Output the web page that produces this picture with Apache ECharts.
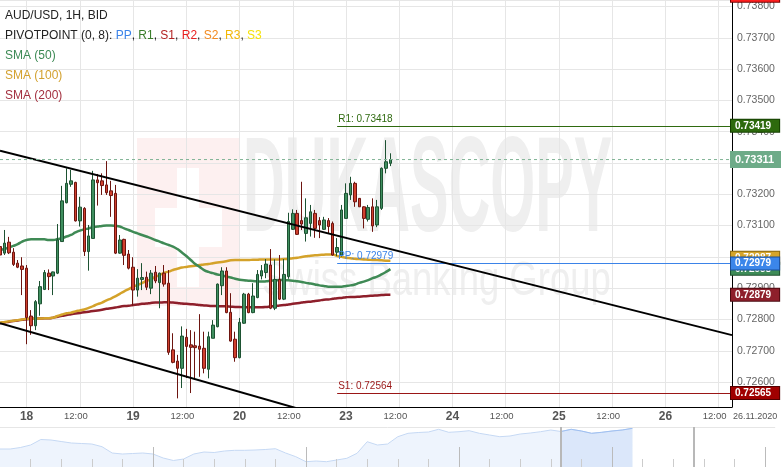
<!DOCTYPE html>
<html>
<head>
<meta charset="utf-8">
<title>AUD/USD 1H</title>
<script src="https://cdn.jsdelivr.net/npm/echarts@6/dist/echarts.min.js"></script>
<style>
  html, body { margin: 0; padding: 0; background: #fff; }
  #chart { width: 781px; height: 467px; }
</style>
</head>
<body>
<div id="chart"></div>
<script>
// hourly slots on the x axis, 17.11 18:00 -> 26.11 15:00 (weekend squeezed out)
const days = ['17', '18', '19', '20', '23', '24', '25', '26']
const firstHour = 18
const slotCount = 166

// AUD/USD 1H bid candles, 17.11 18:00 ... 23.11 10:00
const opens = [
  0.73033, 0.73012, 0.73047, 0.73015, 0.72980, 0.72971, 0.72964, 0.72811, 0.72780, 0.72850,
  0.72896, 0.72948, 0.72939, 0.72948, 0.73049, 0.73173, 0.73232, 0.73238, 0.73115, 0.73155,
  0.73017, 0.73059, 0.73246, 0.73243, 0.73230, 0.73211, 0.73203, 0.73012, 0.73056, 0.73009,
  0.72967, 0.72894, 0.72928, 0.72935, 0.72900, 0.72951, 0.72918, 0.72948, 0.72916, 0.72703,
  0.72667, 0.72644, 0.72743, 0.72719, 0.72716, 0.72715, 0.72708, 0.72641, 0.72740, 0.72777,
  0.72908, 0.72955, 0.72823, 0.72737, 0.72678, 0.72788, 0.72881, 0.72822, 0.72870, 0.72939,
  0.72950, 0.72974, 0.72836, 0.72928, 0.72865, 0.72937, 0.73088, 0.73139, 0.73116, 0.73075,
  0.73107, 0.73139, 0.73116, 0.73088, 0.73116, 0.73107, 0.73015, 0.73006, 0.73123, 0.73198,
  0.73235, 0.73187, 0.73160, 0.73120, 0.73160, 0.73102, 0.73155, 0.73283, 0.73299
]
const closes = [
  0.73006, 0.73044, 0.73013, 0.72976, 0.72967, 0.72960, 0.72806, 0.72780, 0.72857, 0.72905,
  0.72950, 0.72937, 0.72952, 0.73054, 0.73179, 0.73235, 0.73243, 0.73115, 0.73159, 0.73017,
  0.73067, 0.73246, 0.73237, 0.73228, 0.73205, 0.73196, 0.73012, 0.73054, 0.73005, 0.72964,
  0.72894, 0.72932, 0.72934, 0.72903, 0.72948, 0.72923, 0.72948, 0.72913, 0.72695, 0.72663,
  0.72644, 0.72747, 0.72714, 0.72711, 0.72710, 0.72705, 0.72644, 0.72745, 0.72782, 0.72913,
  0.72955, 0.72822, 0.72731, 0.72678, 0.72791, 0.72881, 0.72822, 0.72875, 0.72944, 0.72956,
  0.72977, 0.72836, 0.72928, 0.72865, 0.72944, 0.73113, 0.73139, 0.73072, 0.73105, 0.73125,
  0.73144, 0.73091, 0.73102, 0.73118, 0.73097, 0.73006, 0.73030, 0.73150, 0.73203, 0.73235,
  0.73176, 0.73160, 0.73123, 0.73158, 0.73099, 0.73160, 0.73283, 0.73304, 0.73311
]
const lows = [
  0.72990, 0.73006, 0.73009, 0.72971, 0.72964, 0.72878, 0.72721, 0.72751, 0.72766, 0.72812,
  0.72894, 0.72894, 0.72878, 0.72945, 0.73049, 0.73171, 0.73224, 0.73113, 0.73097, 0.73003,
  0.72956, 0.73059, 0.73164, 0.73198, 0.73198, 0.73128, 0.73009, 0.73010, 0.72974, 0.72960,
  0.72844, 0.72873, 0.72894, 0.72894, 0.72881, 0.72916, 0.72836, 0.72905, 0.72687, 0.72660,
  0.72548, 0.72581, 0.72613, 0.72565, 0.72607, 0.72617, 0.72628, 0.72612, 0.72740, 0.72775,
  0.72878, 0.72820, 0.72729, 0.72665, 0.72676, 0.72786, 0.72820, 0.72820, 0.72868, 0.72928,
  0.72932, 0.72833, 0.72830, 0.72862, 0.72862, 0.72930, 0.73086, 0.73070, 0.73086, 0.73049,
  0.73065, 0.73061, 0.73060, 0.73086, 0.73075, 0.73004, 0.73003, 0.73001, 0.73123, 0.73182,
  0.73160, 0.73160, 0.73091, 0.73113, 0.73080, 0.73095, 0.73150, 0.73267, 0.73290
]
const highs = [
  0.73076, 0.73086, 0.73064, 0.73028, 0.72990, 0.72999, 0.72974, 0.72830, 0.72862, 0.72923,
  0.72958, 0.72960, 0.72953, 0.73105, 0.73227, 0.73283, 0.73278, 0.73240, 0.73192, 0.73159,
  0.73102, 0.73275, 0.73265, 0.73267, 0.73306, 0.73243, 0.73230, 0.73070, 0.73058, 0.73022,
  0.72999, 0.72961, 0.72980, 0.72953, 0.72958, 0.72971, 0.72950, 0.72974, 0.72958, 0.72756,
  0.72687, 0.72778, 0.72770, 0.72766, 0.72761, 0.72817, 0.72761, 0.72761, 0.72798, 0.72915,
  0.72967, 0.72967, 0.72884, 0.72761, 0.72805, 0.72885, 0.72885, 0.72916, 0.72958, 0.72974,
  0.72993, 0.73025, 0.72992, 0.73006, 0.72993, 0.73141, 0.73152, 0.73150, 0.73240, 0.73187,
  0.73166, 0.73150, 0.73127, 0.73128, 0.73124, 0.73113, 0.73060, 0.73166, 0.73235, 0.73256,
  0.73240, 0.73188, 0.73162, 0.73166, 0.73187, 0.73182, 0.73286, 0.73373, 0.73331
]

const sma50 = [
  0.73022, 0.73025, 0.73030, 0.73035, 0.73041, 0.73049, 0.73054, 0.73056, 0.73056, 0.73056,
  0.73056, 0.73054, 0.73054, 0.73057, 0.73060, 0.73065, 0.73070, 0.73078, 0.73084, 0.73088,
  0.73091, 0.73095, 0.73097, 0.73099, 0.73100, 0.73100, 0.73099, 0.73097, 0.73091, 0.73086,
  0.73080, 0.73075, 0.73070, 0.73065, 0.73060, 0.73054, 0.73049, 0.73043, 0.73038, 0.73033,
  0.73025, 0.73014, 0.73003, 0.72990, 0.72977, 0.72968, 0.72958, 0.72952, 0.72948, 0.72944,
  0.72941, 0.72937, 0.72934, 0.72930, 0.72927, 0.72925, 0.72924, 0.72923, 0.72922, 0.72921,
  0.72922, 0.72924, 0.72925, 0.72926, 0.72926, 0.72925, 0.72924, 0.72922, 0.72920, 0.72917,
  0.72915, 0.72912, 0.72909, 0.72907, 0.72905, 0.72905, 0.72905, 0.72905, 0.72907, 0.72909,
  0.72912, 0.72917, 0.72921, 0.72926, 0.72932, 0.72937, 0.72944, 0.72952, 0.72961
]
const sma100 = [
  0.72790, 0.72792, 0.72794, 0.72796, 0.72798, 0.72800, 0.72802, 0.72802, 0.72803, 0.72803,
  0.72804, 0.72804, 0.72806, 0.72811, 0.72816, 0.72820, 0.72822, 0.72826, 0.72829, 0.72832,
  0.72837, 0.72843, 0.72849, 0.72854, 0.72861, 0.72867, 0.72874, 0.72882, 0.72890, 0.72897,
  0.72905, 0.72910, 0.72916, 0.72923, 0.72928, 0.72936, 0.72942, 0.72949, 0.72953, 0.72958,
  0.72962, 0.72966, 0.72968, 0.72970, 0.72972, 0.72974, 0.72976, 0.72977, 0.72980, 0.72982,
  0.72984, 0.72986, 0.72989, 0.72990, 0.72990, 0.72990, 0.72990, 0.72991, 0.72991, 0.72992,
  0.72992, 0.72992, 0.72992, 0.72992, 0.72993, 0.72994, 0.72996, 0.72997, 0.73000, 0.73002,
  0.73004, 0.73005, 0.73006, 0.73007, 0.73008, 0.73008, 0.73003, 0.73000, 0.72997, 0.72996,
  0.72994, 0.72993, 0.72992, 0.72991, 0.72990, 0.72990, 0.72989, 0.72988, 0.72988
]
const sma200 = [
  0.72788, 0.72790, 0.72793, 0.72795, 0.72797, 0.72799, 0.72801, 0.72802, 0.72803, 0.72803,
  0.72804, 0.72804, 0.72806, 0.72809, 0.72812, 0.72814, 0.72817, 0.72819, 0.72821, 0.72823,
  0.72825, 0.72827, 0.72829, 0.72831, 0.72834, 0.72836, 0.72838, 0.72841, 0.72843, 0.72844,
  0.72846, 0.72848, 0.72850, 0.72851, 0.72853, 0.72854, 0.72854, 0.72855, 0.72855, 0.72854,
  0.72853, 0.72851, 0.72850, 0.72849, 0.72848, 0.72846, 0.72845, 0.72844, 0.72843, 0.72843,
  0.72842, 0.72842, 0.72841, 0.72840, 0.72840, 0.72839, 0.72839, 0.72839, 0.72839, 0.72839,
  0.72840, 0.72842, 0.72843, 0.72845, 0.72846, 0.72848, 0.72850, 0.72852, 0.72854, 0.72856,
  0.72857, 0.72859, 0.72861, 0.72863, 0.72864, 0.72866, 0.72868, 0.72869, 0.72871, 0.72872,
  0.72872, 0.72873, 0.72874, 0.72875, 0.72876, 0.72877, 0.72878, 0.72879, 0.72879
]

// hand-drawn channel, value at first and last slot
const upperTrend = [0.73339, 0.72750]
const lowerTrend = [0.72788, 0.72118]

// pivot points (0, 8), drawn from Sunday 22:00
const pivotStart = 76
const pivotNames = ['R1', 'PP', 'S1']
const pivotValues = [0.73418, 0.72979, 0.72564]
const lastPrice = 0.73311

// price tags on the right axis: where they sit, what they say
// (R2 sits above the visible range, so its tag hangs from the top edge)
const tagLevels = [0.73815, 0.73419, 0.73311, 0.72997, 0.72962, 0.72979, 0.72879, 0.72565]
const tagTexts = ['0.73833', '0.73419', '0.73311', '0.72987', '0.72958', '0.72979', '0.72879', '0.72565']

// overview strip at the bottom
const navValues = [
  18, 18, 19.5, 22, 27.5, 27, 25.5, 24, 23.5, 23,
  20.3, 14, 13, 13.5, 14, 13, 9, 6.5, 8, 13,
  15, 14.5, 16, 16.7, 16.7, 17, 17.5, 18.3, 14, 10.3,
  5.3, 6, 5.3, 7, 8.7, 13.7, 25.3, 22, 23, 30.3,
  33.7, 34.5, 35, 37.7, 34.7, 35.3, 36.3, 33.7, 32, 30.3,
  31, 33, 34, 35.3, 37, 35.5, 37.7, 36, 33.7, 34.7,
  36, 37, 38.7
]
const navSlots = 77
const navSelStart = 55
const navEdge = 68
const navTickEvery = 3
const navBigTickEvery = 15

const yMin = 0.725204
const yMax = 0.738208

const tagFills = ['#ff1f1f', '#2d6a0d', '#6dab88', '#d5a52b', '#3e8b57', '#3b86ea', '#8e1f2b', '#a00000']
const tagBorders = ['#7a0000', '#143f00', '#6dab88', '#8a6a12', '#1e4f2d', '#1b4e98', '#4b0a10', '#520000']
const pivotColors = ['#2f6a10', '#3b83e8', '#9a1616']

const categories = []
for (let d = 0; categories.length < slotCount; d++) {
  for (let h = d === 0 ? firstHour : 0; h < 24 && categories.length < slotCount; h++) {
    categories.push(days[d] + ' ' + String(h).padStart(2, '0') + ':00')
  }
}
const isMajor = (i) => / (00|12):00$/.test(categories[i])

const candles = opens.map((o, i) => [o, closes[i], lows[i], highs[i]])

const pivotMarks = pivotNames.map((name, k) => [
  {
    coord: [pivotStart, pivotValues[k]],
    lineStyle: { color: pivotColors[k], width: 1, type: 'solid' },
    label: {
      show: true, position: 'insideStartTop', distance: [1, 2],
      formatter: name + ': ' + pivotValues[k].toFixed(5),
      color: pivotColors[k], fontSize: 10
    }
  },
  { coord: [slotCount - 1, pivotValues[k]] }
])
const tagMarks = tagLevels.map((v, k) => ({
  yAxis: v,
  lineStyle: { color: 'transparent' },
  label: {
    show: true, position: 'end', distance: -1,
    verticalAlign: k === 0 ? 'bottom' : 'middle',
    formatter: tagTexts[k],
    color: '#fff', fontSize: k === 2 ? 11 : 10, fontWeight: 'bold',
    backgroundColor: tagFills[k], borderColor: tagBorders[k], borderWidth: 1,
    padding: k === 2 ? [2, 8, 2, 4] : [1, 8, 1, 4]
  }
}))

// little time ticks along the bottom of the overview strip
const navTickMarks = []
for (let i = navTickEvery; i < navSlots; i += navTickEvery) {
  const big = i % navBigTickEvery === 0
  navTickMarks.push([
    { coord: [i, 0], lineStyle: { color: big ? '#bbbbbb' : '#cccccc', width: 1, type: 'solid' } },
    { coord: [i, big ? 20 : 8] }
  ])
}

const smaLine = (name, data, color) => ({
  name, type: 'line', data, symbol: 'none', smooth: true, z: 2, silent: true,
  lineStyle: { color, width: 2.5 }
})
const trendLine = (vals) => ({
  type: 'line', data: [[0, vals[0]], [slotCount - 1, vals[1]]], symbol: 'none', z: 5, silent: true,
  lineStyle: { color: '#000', width: 2 }
})

const chart = echarts.init(document.getElementById('chart'))
chart.setOption({
  animation: false,
  textStyle: { fontFamily: '"Liberation Sans", Arial, sans-serif' },
  grid: [
    { left: 0, right: 49, top: 0, bottom: 60 },
    { left: 0, right: 5.8, top: 427, bottom: 0 }
  ],
  xAxis: [
    {
      type: 'category', gridIndex: 0, data: categories, boundaryGap: false,
      axisLine: { show: true, onZero: false, lineStyle: { color: '#000', width: 1 } },
      axisTick: { show: false, interval: isMajor },
      axisLabel: {
        interval: isMajor, margin: 4,
        formatter: v => {
          const [d, t] = v.split(' ')
          return t === '00:00' ? '{d|' + d + '}' : '{h|' + t + '}'
        },
        rich: {
          d: { fontSize: 12, fontWeight: 'bold', color: '#555' },
          h: { fontSize: 9.5, color: '#555', padding: [0, 8, 0, 0] }
        }
      },
      splitLine: { show: true, interval: isMajor, lineStyle: { color: '#e6e6e6' } }
    },
    {
      type: 'category', gridIndex: 1, boundaryGap: false, show: false,
      data: Array.from({ length: navSlots }, (_, i) => i)
    }
  ],
  yAxis: [
    {
      type: 'value', gridIndex: 0, position: 'right', min: yMin, max: yMax, splitNumber: 13,
      axisLine: { show: true, lineStyle: { color: '#000', width: 1 } },
      axisTick: { show: false },
      axisLabel: {
        color: '#666', fontSize: 10.5, margin: 5, showMinLabel: false, showMaxLabel: false,
        formatter: v => v.toFixed(5)
      },
      splitLine: { lineStyle: { color: '#e6e6e6' } }
    },
    { type: 'value', gridIndex: 1, min: 0, max: 40, show: false }
  ],
  graphic: [
    // faint broker watermark
    { type: 'rect', z: -1, shape: { x: 137, y: 138, width: 103, height: 168 }, style: { fill: '#fdf0f0' } },
    { type: 'rect', z: -1, shape: { x: 177, y: 168, width: 22, height: 119 }, style: { fill: '#fff' } },
    { type: 'rect', z: -1, shape: { x: 155, y: 208, width: 67, height: 39 }, style: { fill: '#fff' } },
    {
      type: 'text', z: -1, x: 243, y: 125, scaleX: 0.425,
      style: { text: 'DUKASCOPY', font: 'bold 136px "Liberation Sans"', fill: '#efefef', verticalAlign: 'top' }
    },
    {
      type: 'text', z: -1, x: 262, y: 258, scaleX: 0.76,
      style: { text: 'Swiss Banking Group', font: '48px "Liberation Sans"', fill: '#efefef', verticalAlign: 'top' }
    },
    // legend block
    {
      type: 'text', z: 100, x: 5, y: 16,
      style: { text: 'AUD/USD, 1H, BID', font: '12px "Liberation Sans"', fill: '#222', verticalAlign: 'middle' }
    },
    {
      type: 'text', z: 100, x: 5, y: 36,
      style: {
        text: 'PIVOTPOINT (0, 8): {pp|PP}, {r1|R1}, {s1|S1}, {r2|R2}, {s2|S2}, {r3|R3}, {s3|S3}',
        font: '12px "Liberation Sans"', fill: '#222', verticalAlign: 'middle',
        rich: {
          pp: { fill: '#3b83e8', font: '12px "Liberation Sans"' },
          r1: { fill: '#3a7d2a', font: '12px "Liberation Sans"' },
          s1: { fill: '#b22222', font: '12px "Liberation Sans"' },
          r2: { fill: '#e82020', font: '12px "Liberation Sans"' },
          s2: { fill: '#f28a20', font: '12px "Liberation Sans"' },
          r3: { fill: '#f2b705', font: '12px "Liberation Sans"' },
          s3: { fill: '#f5e20a', font: '12px "Liberation Sans"' }
        }
      }
    },
    { type: 'text', z: 100, x: 5, y: 56, style: { text: 'SMA (50)', font: '12px "Liberation Sans"', fill: '#3d8a55', verticalAlign: 'middle' } },
    { type: 'text', z: 100, x: 5, y: 76, style: { text: 'SMA (100)', font: '12px "Liberation Sans"', fill: '#d3a12f', verticalAlign: 'middle' } },
    { type: 'text', z: 100, x: 5, y: 96, style: { text: 'SMA (200)', font: '12px "Liberation Sans"', fill: '#a3303f', verticalAlign: 'middle' } },
    { type: 'text', z: 100, x: 733, y: 417, style: { text: '26.11.2020', font: '9px "Liberation Sans"', fill: '#555', verticalAlign: 'middle' } }
  ],
  series: [
    smaLine('SMA (200)', sma200, '#8e1f2b'),
    smaLine('SMA (100)', sma100, '#d4a22a'),
    smaLine('SMA (50)', sma50, '#3f8a55'),
    {
      name: 'AUD/USD', type: 'candlestick', data: candles, barWidth: 3, z: 3, silent: true,
      itemStyle: {
        color: '#3f8f5f', color0: '#d0402e',
        borderColor: '#1d5232', borderColor0: '#6d1510', borderWidth: 1
      }
    },
    trendLine(upperTrend),
    trendLine(lowerTrend),
    {
      name: 'levels', type: 'line', clip: false, z: 6, silent: true, symbol: 'none',
      data: [[0, lastPrice], [slotCount - 1, lastPrice]],
      lineStyle: { color: '#7fb394', width: 1, type: [3, 3] },
      markLine: {
        silent: true, symbol: ['none', 'none'], animation: false, precision: 6,
        data: [...pivotMarks, ...tagMarks]
      }
    },
    {
      type: 'line', xAxisIndex: 1, yAxisIndex: 1, data: navValues, symbol: 'none', silent: true,
      lineStyle: { color: '#c6d9f4', width: 1 },
      areaStyle: { color: '#eef4fd', opacity: 1 },
      markLine: {
        silent: true, symbol: ['none', 'none'], label: { show: false }, precision: 2,
        lineStyle: { color: '#e6e6e6', width: 1, type: 'solid' },
        data: [{ yAxis: 40 }]
      }
    },
    {
      type: 'line', xAxisIndex: 1, yAxisIndex: 1, silent: true, symbol: 'none',
      data: navValues.map((v, i) => (i >= navSelStart ? v : null)),
      lineStyle: { color: '#9fbff0', width: 1 },
      areaStyle: { color: '#dbe7fa', opacity: 1 },
      markLine: {
        silent: true, symbol: ['none', 'none'], label: { show: false }, precision: 2,
        lineStyle: { color: '#b8b8b8', width: 2, type: 'solid' },
        data: [{ xAxis: navSelStart }, { xAxis: navEdge }, ...navTickMarks]
      }
    }
  ]
})
</script>
</body>
</html>
